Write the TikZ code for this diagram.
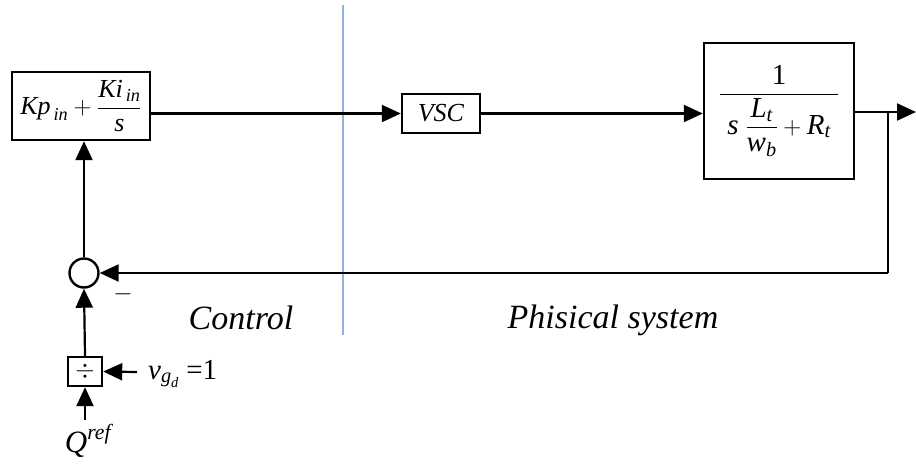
\documentclass[tikz,border=0pt]{standalone}
\usepackage{amsmath}
\usepackage{fontspec}
\setmainfont{Liberation Serif}
\usetikzlibrary{arrows.meta}
\newcommand{\ti}[1]{\textit{#1}}
\definecolor{divblue}{HTML}{8EB4E3}
\begin{document}
\begin{tikzpicture}[x=1pt,y=-1pt,
  blk/.style={draw,line width=2.4pt,inner sep=0pt,fill=white},
  conn/.style={line width=2.2pt,-{Triangle[length=19pt,width=17pt]}},
  wire/.style={line width=2.2pt},
  lbl/.style={inner sep=0pt,font=\fontsize{34}{38}\selectfont\itshape},
  mtxt/.style={font=\fontsize{26}{30}\selectfont}]
\useasboundingbox (0,0) rectangle (916,466);
\draw[divblue,line width=2.2pt] (343,5) -- (343,335);
\node[blk,mtxt,minimum width=138pt,minimum height=68pt] (pi) at (81,106)
  {$\ti{Kp}_{\,\ti{in}}+\dfrac{\ti{Ki}_{\,\ti{in}}}{\ti{s}}$};
\node[blk,mtxt,minimum width=78pt,minimum height=39pt] (vsc) at (441,113.5) {\ti{VSC}};
\node[blk,font=\fontsize{29}{33}\selectfont,minimum width=150pt,minimum height=136pt] (tf) at (779,111)
  {$\dfrac{\text{1}}{\;\ti{s}\;\dfrac{\ti{L}_{\ti{t}}}{\ti{w}_{\ti{b}}}+\ti{R}_{\ti{t}}\;}$};
\node[draw,circle,line width=2.4pt,minimum size=29pt,inner sep=0pt] (sum) at (84,273) {};
\node[blk,minimum width=34pt,minimum height=29pt,font=\fontsize{24}{28}\selectfont] (div) at (85,371.5) {$\div$};
\node[inner sep=0pt,font=\fontsize{24}{28}\selectfont] (minus) at (123,294) {$-$};
\coordinate (branch) at (888,112);
\coordinate (out) at (916,112);
\coordinate (vin) at (137,372);
\coordinate (qin) at (85,420);
\node[inner sep=0pt,anchor=west,font=\fontsize{29}{33}\selectfont] (vgd) at (148,374) {$\ti{v}_{\ti{g}_{\ti{d}}}\;\text{=1}$};
\node[inner sep=0pt,font=\fontsize{31}{35}\selectfont] (qref) at (88,441) {$\ti{Q}^{\ti{ref}}$};
\node[lbl] (ctrl) at (241,318) {Control};
\node[lbl] (phys) at (613,320) {Phisical system};
\draw[conn] (pi.east |- vsc.west) -- (vsc.west);
\draw[conn] (vsc.east) -- (vsc.east -| tf.west);
\draw[conn] (tf.east |- out) -- (out);
\draw[wire] (branch) -- (branch |- sum.east);
\draw[conn] (branch |- sum.east) -- (sum.east);
\draw[conn] (sum.north) -- (sum.north |- pi.south);
\draw[conn] (div.north) -- (sum.south);
\draw[conn] (vin) -- (div.east);
\draw[conn] (qin) -- (div.south);
\end{tikzpicture}
\end{document}
